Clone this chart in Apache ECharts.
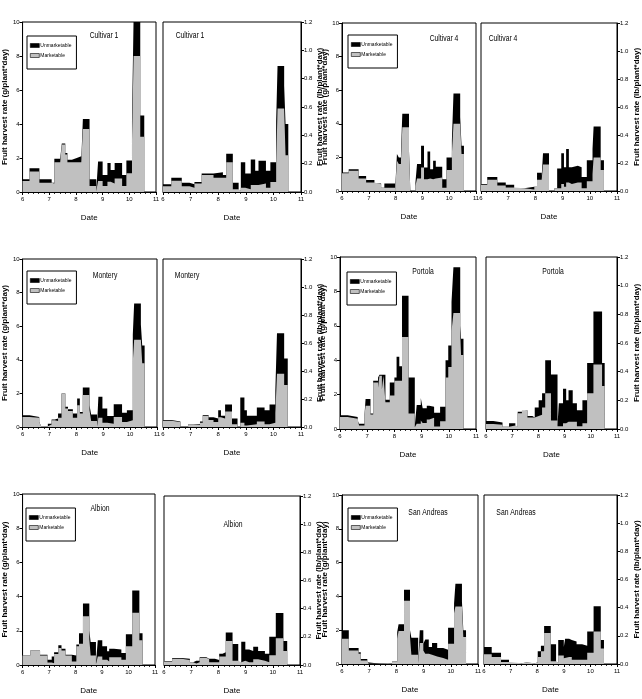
<!DOCTYPE html>
<html>
<head>
<meta charset="utf-8">
<script src="https://cdn.jsdelivr.net/npm/echarts@6/dist/echarts.min.js"></script>
<style>html,body{margin:0;padding:0;background:#fff}#c{width:642px;height:699px}</style>
</head>
<body>
<div id="c"></div>
<script>
// ---------- DATA (dates in months) ----------
// Cultivar 1
const cv1L_date = [6.0, 6.26, 6.63, 7.09, 7.19, 7.41, 7.47, 7.6, 7.68, 7.85, 8.03, 8.2, 8.26, 8.51, 8.76, 8.83, 9.0, 9.18, 9.3, 9.45, 9.73, 9.89, 10.1, 10.16, 10.41, 10.56];
const cv1L_mkt  = [0.65, 1.2, 0.55, 0.5, 1.75, 1.8, 2.8, 2.2, 1.75, 1.75, 1.75, 1.65, 3.7, 0.35, 0.05, 0.65, 0.35, 0.6, 0.5, 0.8, 0.35, 1.1, 3.0, 8.0, 3.25, 0];
const cv1L_unm  = [0.1, 0.2, 0.2, 0.05, 0.2, 0.1, 0.05, 0.1, 0.15, 0.25, 0.35, 0.25, 0.6, 0.4, 0.05, 1.15, 0.65, 1.1, 0.8, 0.9, 0.65, 0.75, 1.2, 2.2, 1.25, 0];
const cv1R_date = [6.0, 6.3, 6.68, 6.96, 7.14, 7.4, 7.83, 8.17, 8.29, 8.53, 8.74, 8.82, 8.98, 9.18, 9.34, 9.46, 9.73, 9.89, 10.1, 10.15, 10.39, 10.44, 10.54];
const cv1R_mkt  = [0.04, 0.08, 0.04, 0.03, 0.06, 0.12, 0.1, 0.1, 0.21, 0.02, 0.01, 0.03, 0.02, 0.05, 0.05, 0.06, 0.03, 0.07, 0.2, 0.59, 0.58, 0.26, 0];
const cv1R_unm  = [0.015, 0.02, 0.025, 0.025, 0.01, 0.01, 0.04, 0.02, 0.06, 0.045, 0, 0.18, 0.11, 0.18, 0.1, 0.16, 0.12, 0.14, 0.3, 0.3, 0.17, 0.22, 0];
// Cultivar 4
const cv4L_date = [6.0, 6.25, 6.62, 6.9, 7.21, 7.46, 7.58, 7.98, 8.05, 8.12, 8.2, 8.25, 8.5, 8.55, 8.74, 8.8, 8.95, 9.06, 9.19, 9.29, 9.4, 9.5, 9.74, 9.9, 10.1, 10.16, 10.41, 10.46, 10.55];
const cv4L_mkt  = [1.05, 1.2, 0.75, 0.5, 0.4, 0.2, 0.2, 0, 1.8, 1.6, 1.8, 3.8, 2.2, 0, 0.3, 0.75, 1.4, 0.7, 0.75, 0.7, 0.75, 0.8, 0.2, 1.25, 2.2, 4.0, 4.0, 2.2, 0];
const cv4L_unm  = [0.05, 0.1, 0.15, 0.15, 0.05, 0, 0.25, 0, 0.4, 0.4, 0.4, 0.8, 0.2, 0, 0.2, 0.85, 1.3, 0.7, 1.6, 0.6, 1.05, 0.65, 0.5, 0.75, 0.8, 1.8, 0.4, 0.5, 0];
const cv4R_date = [6.0, 6.23, 6.6, 6.91, 7.22, 7.59, 7.96, 8.06, 8.23, 8.28, 8.5, 8.7, 8.8, 8.95, 9.05, 9.13, 9.23, 9.34, 9.56, 9.7, 9.89, 10.1, 10.14, 10.4, 10.52];
const cv4R_mkt  = [0.045, 0.08, 0.04, 0.025, 0.02, 0.01, 0.03, 0.08, 0.08, 0.19, 0, 0.02, 0.02, 0.05, 0.03, 0.06, 0.05, 0.06, 0.06, 0.02, 0.07, 0.12, 0.24, 0.15, 0];
const cv4R_unm  = [0.005, 0.02, 0.02, 0.02, 0, 0.02, 0, 0.05, 0.02, 0.08, 0, 0, 0.14, 0.22, 0.14, 0.24, 0.12, 0.12, 0.11, 0.08, 0.15, 0.18, 0.22, 0.07, 0];
// Montery
const monL_date = [6.0, 6.26, 6.62, 6.69, 6.94, 7.08, 7.2, 7.32, 7.45, 7.59, 7.69, 7.87, 8.03, 8.13, 8.24, 8.49, 8.55, 8.77, 8.82, 8.97, 9.15, 9.39, 9.7, 9.88, 10.1, 10.15, 10.4, 10.45, 10.54];
const monL_mkt  = [0.6, 0.55, 0.3, 0.05, 0.15, 0.4, 0.35, 0.55, 2.0, 1.1, 0.95, 0.55, 1.3, 0.8, 1.9, 1.0, 0.35, 0.05, 0.55, 0.25, 0.2, 0.6, 0.3, 0.4, 3.9, 5.2, 5.1, 3.8, 0];
const monL_unm  = [0.1, 0.05, 0, 0, 0.05, 0.05, 0.15, 0.25, 0, 0.1, 0.1, 0.25, 0.4, 0.1, 0.45, 0.3, 0.4, 0.05, 1.25, 0.85, 0.45, 0.75, 0.55, 0.6, 1.6, 2.15, 1.0, 1.05, 0];
const monR_date = [6.0, 6.3, 6.63, 6.91, 7.1, 7.34, 7.44, 7.65, 7.83, 8.0, 8.1, 8.25, 8.5, 8.7, 8.8, 8.95, 9.04, 9.4, 9.68, 9.86, 10.07, 10.13, 10.39, 10.52];
const monR_mkt  = [0.045, 0.035, 0, 0.02, 0.015, 0.03, 0.08, 0.05, 0.035, 0.07, 0.06, 0.11, 0.02, 0, 0.03, 0.01, 0.02, 0.04, 0.02, 0.03, 0.1, 0.38, 0.3, 0];
const monR_unm  = [0.005, 0.005, 0, 0, 0.005, 0.01, 0.005, 0.02, 0.025, 0.05, 0.02, 0.05, 0.04, 0, 0.18, 0.11, 0.06, 0.1, 0.1, 0.13, 0.16, 0.29, 0.19, 0];
// Portola
const porL_date = [6.0, 6.28, 6.65, 6.7, 6.9, 6.94, 7.12, 7.22, 7.4, 7.45, 7.54, 7.6, 7.67, 7.83, 8.0, 8.08, 8.18, 8.28, 8.52, 8.75, 8.82, 8.97, 9.04, 9.19, 9.28, 9.46, 9.68, 9.88, 9.98, 10.1, 10.17, 10.42, 10.45, 10.54];
const porL_mkt  = [0.7, 0.6, 0.5, 0.2, 0.8, 1.35, 0.85, 2.7, 2.4, 3.1, 2.3, 3.1, 1.55, 1.95, 2.8, 2.8, 2.8, 5.35, 0.9, 0.1, 0.3, 0.5, 0.35, 0.55, 0.65, 0.15, 0.45, 3.0, 3.6, 5.7, 6.75, 5.6, 4.3, 0];
const porL_unm  = [0.1, 0.1, 0, 0.1, 0, 0.4, 0.05, 0.1, 0.6, 0.05, 0.8, 0.05, 0.15, 0.75, 0.2, 1.4, 0.85, 2.4, 2.1, 0.1, 1.1, 1.3, 0.85, 0.8, 0.65, 0.8, 0.85, 1.0, 1.25, 1.7, 2.65, 0.4, 0.95, 0];
const porR_date = [6.0, 6.28, 6.63, 6.88, 7.12, 7.21, 7.37, 7.58, 7.77, 7.86, 8.01, 8.14, 8.26, 8.48, 8.73, 8.78, 8.94, 9.06, 9.15, 9.31, 9.47, 9.68, 9.86, 10.1, 10.43, 10.53];
const porR_mkt  = [0.035, 0.03, 0.015, 0.025, 0.02, 0.11, 0.13, 0.08, 0.08, 0.09, 0.1, 0.15, 0.25, 0.06, 0.02, 0.02, 0.04, 0.05, 0.05, 0.05, 0.02, 0.04, 0.25, 0.45, 0.3, 0];
const porR_unm  = [0.02, 0.015, 0, 0.015, 0, 0.01, 0, 0.01, 0, 0.06, 0.1, 0.1, 0.23, 0.32, 0.01, 0.16, 0.24, 0.15, 0.22, 0.13, 0.11, 0.16, 0.21, 0.37, 0.16, 0];
// Albion
const albL_date = [6.0, 6.29, 6.66, 6.94, 7.1, 7.19, 7.35, 7.47, 7.62, 7.86, 8.03, 8.13, 8.28, 8.52, 8.57, 8.77, 8.84, 9.01, 9.19, 9.27, 9.45, 9.73, 9.9, 10.14, 10.41, 10.53];
const albL_mkt  = [0.55, 0.85, 0.55, 0.15, 0.1, 0.65, 1.0, 0.85, 0.55, 0.2, 1.1, 1.25, 2.85, 1.5, 0.55, 0.05, 0.5, 0.3, 0.2, 0.45, 0.45, 0.3, 1.1, 3.05, 1.45, 0];
const albL_unm  = [0, 0, 0.05, 0.15, 0.4, 0.1, 0.15, 0.1, 0.05, 0.35, 0.1, 0.6, 0.75, 0.5, 0.8, 0.05, 0.95, 0.8, 0.6, 0.5, 0.45, 0.4, 0.7, 1.3, 0.4, 0];
const albR_date = [6.0, 6.3, 6.64, 6.95, 7.07, 7.19, 7.31, 7.56, 7.66, 7.87, 8.03, 8.15, 8.27, 8.52, 8.73, 8.84, 8.99, 9.13, 9.28, 9.46, 9.71, 9.87, 10.11, 10.39, 10.53];
const albR_mkt  = [0.025, 0.045, 0.035, 0.02, 0.01, 0.02, 0.05, 0.045, 0.02, 0.02, 0.06, 0.06, 0.17, 0.03, 0.02, 0.03, 0.02, 0.02, 0.04, 0.03, 0.02, 0.07, 0.19, 0.1, 0];
const albR_unm  = [0.003, 0.005, 0.01, 0, 0.02, 0.01, 0.005, 0, 0.025, 0.015, 0.02, 0.03, 0.06, 0.12, 0, 0.135, 0.09, 0.08, 0.09, 0.07, 0.06, 0.13, 0.18, 0.07, 0];
// San Andreas
const sanL_date = [6.0, 6.25, 6.61, 6.69, 6.93, 6.98, 7.42, 7.69, 7.84, 8.03, 8.08, 8.28, 8.5, 8.55, 8.8, 8.86, 8.99, 9.06, 9.19, 9.31, 9.5, 9.72, 9.9, 10.12, 10.17, 10.41, 10.46, 10.56];
const sanL_mkt  = [1.5, 0.8, 0.6, 0.2, 0.1, 0.02, 0.05, 0.02, 0.15, 1.5, 1.95, 3.75, 1.6, 0.55, 0.05, 1.25, 0.8, 0.6, 0.55, 0.45, 0.35, 0.25, 1.2, 3.0, 3.4, 3.4, 1.6, 0];
const sanL_unm  = [0.5, 0.15, 0.1, 0.1, 0, 0, 0, 0, 0, 0.4, 0.4, 0.65, 0.4, 1.0, 0.05, 0.75, 0.4, 0.85, 0.45, 0.8, 0.6, 0.6, 0.95, 0.6, 1.35, 0.3, 0.4, 0];
const sanR_date = [6.0, 6.29, 6.64, 6.94, 7.41, 7.6, 7.9, 8.02, 8.14, 8.26, 8.51, 8.71, 8.79, 9.0, 9.05, 9.2, 9.3, 9.48, 9.69, 9.88, 10.12, 10.39, 10.51];
const sanR_mkt  = [0.07, 0.05, 0.015, 0.005, 0.01, 0.005, 0.01, 0.05, 0.09, 0.22, 0.02, 0.01, 0.06, 0.04, 0.05, 0.05, 0.03, 0.03, 0.03, 0.08, 0.23, 0.11, 0];
const sanR_unm  = [0.05, 0.03, 0.015, 0, 0, 0, 0, 0.04, 0.04, 0.05, 0.12, 0, 0.11, 0.08, 0.13, 0.12, 0.13, 0.11, 0.1, 0.15, 0.18, 0.06, 0];

const seriesNames = ['Unmarketable', 'Marketable'];
const xTicks = [6, 11, 1];
const leftTicks = [0, 10, 2];
const rightTicks = [0, 1.2, 0.2];
const leftTitle = 'Fruit harvest rate (g/plant*day)';
const rightTitle = 'Fruit harvest rate (lb/plant*day)';

// ---------- LAYOUT ----------
const FONT = "'Liberation Sans Narrow', 'Liberation Sans', Arial, sans-serif";
const panels = [
  {d: cv1L_date, m: cv1L_mkt, u: cv1L_unm, side: 'L', r: [20, 22, 136, 170], t: 'Cultivar 1', tp: [104, 36], lg: [27, 36], ng: 9},
  {d: cv1R_date, m: cv1R_mkt, u: cv1R_unm, side: 'R', r: [163, 22, 138, 170], t: 'Cultivar 1', tp: [190, 36], ng: 14},
  {d: cv4L_date, m: cv4L_mkt, u: cv4L_unm, side: 'L', r: [342, 23, 134, 168], t: 'Cultivar 4', tp: [444, 39], lg: [348, 35], ng: 10},
  {d: cv4R_date, m: cv4R_mkt, u: cv4R_unm, side: 'R', r: [481, 23, 136, 168], t: 'Cultivar 4', tp: [503, 39], ng: 16},
  {d: monL_date, m: monL_mkt, u: monL_unm, side: 'L', r: [20, 259, 137, 168], t: 'Montery', tp: [105, 276], lg: [27, 271], ng: 9},
  {d: monR_date, m: monR_mkt, u: monR_unm, side: 'R', r: [163, 259, 138, 168], t: 'Montery', tp: [187, 276], ng: 14},
  {d: porL_date, m: porL_mkt, u: porL_unm, side: 'L', r: [340, 257, 136, 172], t: 'Portola', tp: [423, 272], lg: [347, 272], ng: 8},
  {d: porR_date, m: porR_mkt, u: porR_unm, side: 'R', r: [486, 257, 135, 172], t: 'Portola', tp: [553, 272], ng: 16},
  {d: albL_date, m: albL_mkt, u: albL_unm, side: 'L', r: [19, 494, 136, 171], t: 'Albion', tp: [100, 509], lg: [26, 508], ng: 9},
  {d: albR_date, m: albR_mkt, u: albR_unm, side: 'R', r: [164, 496, 136, 169], t: 'Albion', tp: [233, 525], ng: 14},
  {d: sanL_date, m: sanL_mkt, u: sanL_unm, side: 'L', r: [342, 495, 136, 169], t: 'San Andreas', tp: [428, 513], lg: [348, 508], ng: 10},
  {d: sanR_date, m: sanR_mkt, u: sanR_unm, side: 'R', r: [484, 495, 135, 169], t: 'San Andreas', tp: [516, 513], ng: 16}
];

const grid = [], xAxis = [], yAxis = [], series = [], legend = [], graphic = [];
const axisCommon = {
  axisLine: {show: true, onZero: false, lineStyle: {color: '#000', width: 1}},
  axisTick: {show: true, length: 3, lineStyle: {color: '#000', width: 1}},
  splitLine: {show: false},
  axisLabel: {color: '#000', fontSize: 6, fontFamily: FONT}
};
panels.forEach((p, i) => {
  grid.push({left: p.r[0], top: p.r[1], width: p.r[2], height: p.r[3], show: true,
    borderColor: '#000', borderWidth: 1, backgroundColor: 'transparent', containLabel: false});
  xAxis.push(Object.assign({}, axisCommon, {
    type: 'value', gridIndex: i, min: xTicks[0], max: xTicks[1], interval: xTicks[2],
    minorTick: {show: true, splitNumber: 5, length: 2, lineStyle: {color: '#000', width: 0.8}},
    axisLabel: Object.assign({}, axisCommon.axisLabel, {margin: 4}),
    name: 'Date', nameLocation: 'middle', nameGap: 22,
    nameTextStyle: {color: '#000', fontSize: 8, fontFamily: FONT}
  }));
  const isL = p.side === 'L';
  const yt = isL ? leftTicks : rightTicks;
  yAxis.push(Object.assign({}, axisCommon, {
    type: 'value', gridIndex: i, position: isL ? 'left' : 'right',
    min: yt[0], max: yt[1], interval: yt[2],
    axisLabel: Object.assign({}, axisCommon.axisLabel, {margin: 3,
      formatter: isL ? (v => String(v)) : (v => v.toFixed(1))}),
    name: isL ? leftTitle : rightTitle, nameLocation: 'middle', nameGap: p.ng,
    nameTextStyle: {color: '#000', fontSize: 8, fontWeight: 'bold', fontFamily: FONT}
  }));
  const tot = p.d.map((x, k) => [x, +(p.m[k] + p.u[k]).toFixed(4)]);
  const mk = p.d.map((x, k) => [x, p.m[k]]);
  series.push({type: 'line', name: seriesNames[0], xAxisIndex: i, yAxisIndex: i, step: 'end',
    symbol: 'none', lineStyle: {width: 0}, itemStyle: {color: '#000'},
    areaStyle: {color: '#000', opacity: 1}, data: tot, silent: true, clip: true});
  series.push({type: 'line', name: seriesNames[1], xAxisIndex: i, yAxisIndex: i, step: 'end',
    symbol: 'none', lineStyle: {width: 0}, itemStyle: {color: '#c0c0c0'},
    areaStyle: {color: '#c0c0c0', opacity: 1}, data: mk, silent: true, clip: true});
  graphic.push({type: 'text', x: p.tp[0], y: p.tp[1], scaleX: 0.8, silent: true,
    style: {text: p.t, fill: '#000', font: '8.5px ' + FONT, textAlign: 'center', textVerticalAlign: 'middle'}});
  if (p.lg) {
    legend.push({show: true, left: p.lg[0], top: p.lg[1], orient: 'vertical', selectedMode: false,
      data: seriesNames, icon: 'rect', itemWidth: 9, itemHeight: 4, itemGap: 5,
      borderColor: '#000', borderWidth: 1, padding: [7, 5, 11, 3],
      itemStyle: {borderColor: '#000', borderWidth: 0.6},
      textStyle: {color: '#000', fontSize: 5, fontFamily: FONT, padding: [0, 0, 0, -4]}});
  }
});

const chart = echarts.init(document.getElementById('c'), null, {renderer: 'canvas'});
chart.setOption({animation: false, backgroundColor: '#fff', grid, xAxis, yAxis, series, legend, graphic});
</script>
</body>
</html>
